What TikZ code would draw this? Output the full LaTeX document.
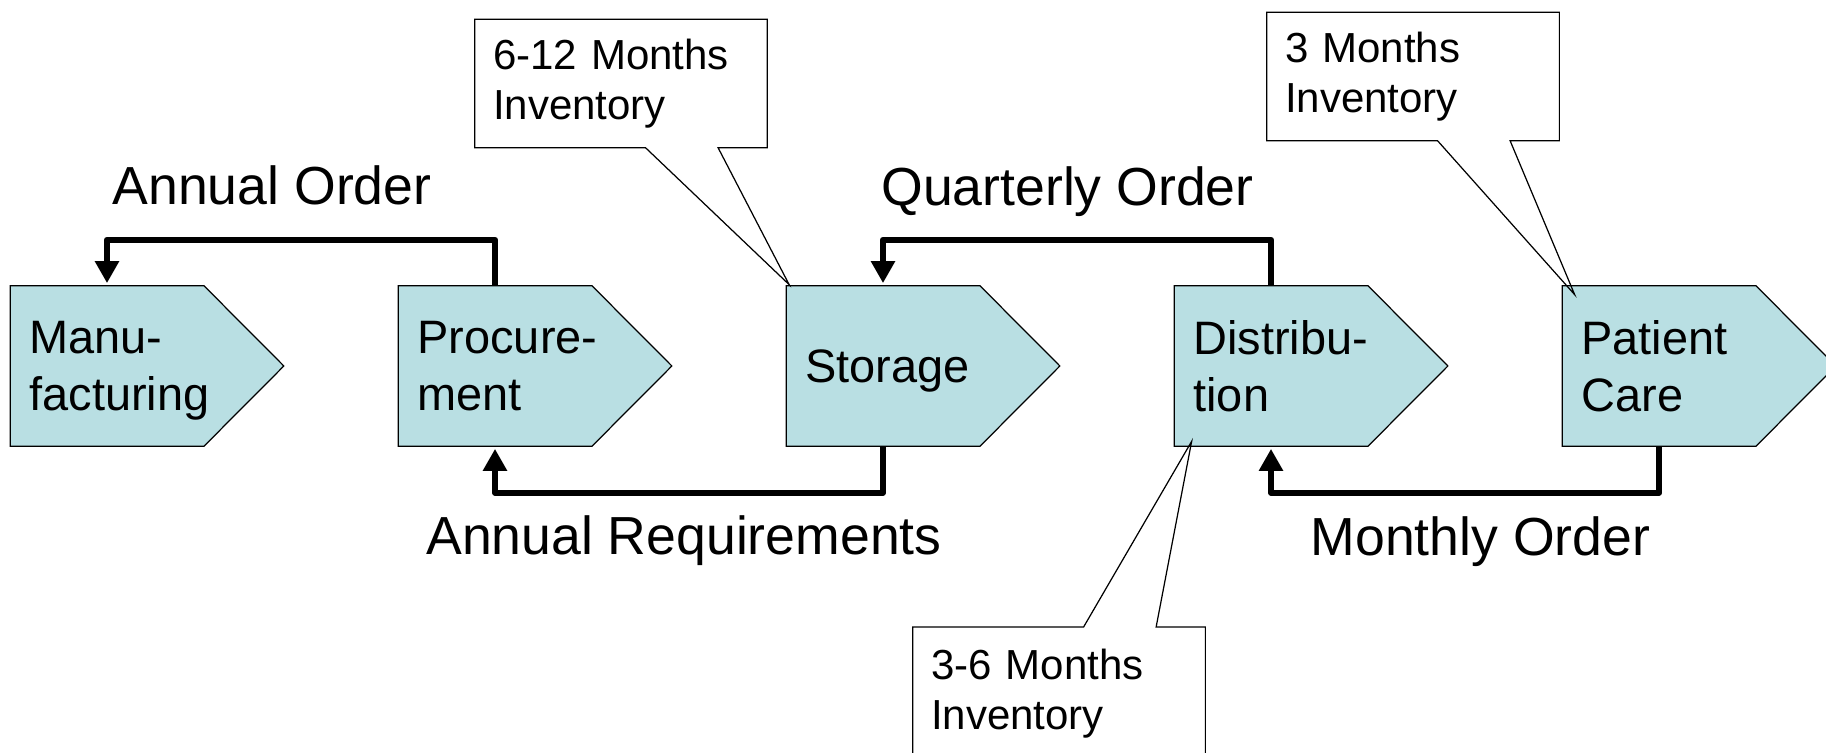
\documentclass[tikz,border=0pt]{standalone}
\usepackage{fontspec}
\setmainfont{Liberation Sans}
\usepackage{tikz}
\usetikzlibrary{arrows.meta,positioning,calc,backgrounds}
\usepackage{xcolor}
\definecolor{stagepale}{RGB}{185,223,227}
\hyphenpenalty=10000
\exhyphenpenalty=10000
\newcommand{\stagefont}{\fontsize{26.7pt}{32.4pt}\selectfont}
\newcommand{\flowfont}{\fontsize{30.5pt}{36pt}\selectfont}
\newcommand{\calloutfont}{\fontsize{23.9pt}{28.5pt}\selectfont}

\tikzset{
    stagebox/.style={rectangle,minimum width=3.86cm,minimum height=3.2cm,inner xsep=0.38cm,inner ysep=0pt,text width=3.1cm,text depth=32.4pt,align=left,font=\stagefont},
    stageshape/.style={draw=black,fill=stagepale,line width=0.7pt},
    flowarrow/.style={line width=3.4pt,line join=round,shorten >=0.05cm,-{Triangle[length=0.44cm,width=0.46cm]}},
    flowlabel/.style={font=\flowfont,anchor=base,inner sep=0pt},
    callbox/.style={rectangle,minimum width=5.84cm,minimum height=2.56cm,inner xsep=0.36cm,text width=5.12cm,align=left,font=\calloutfont},
    callline/.style={draw=black,line width=0.7pt}
}

\begin{document}
\begin{tikzpicture}
        \useasboundingbox (0,0) rectangle (36.52,15.04);

        % Stages
        \node[stagebox] (manu) at (2.14,7.72) {Manu-\\facturing};
        \node[stagebox] (proc) at (9.90,7.72) {Procure-\\ment};
        \node[stagebox,text depth=0pt] (stor) at (17.66,7.72) {Storage};
        \node[stagebox] (dist) at (25.42,7.72) {Distribu-\\tion};
        \node[stagebox] (care) at (33.18,7.72) {Patient\\Care};

        \begin{scope}[on background layer]
            \foreach \s in {manu,proc,stor,dist,care}
                \draw[stageshape] (\s.north west) -- (\s.north east) -- ([xshift=1.6cm]\s.east) -- (\s.south east) -- (\s.south west) -- cycle;
        \end{scope}

        % Orders and requirements
        \draw[flowarrow] (proc.north) -- ++(0,0.92) -| (manu.north);
        \draw[flowarrow] (dist.north) -- ++(0,0.92) -| (stor.north);
        \draw[flowarrow] (stor.south) -- ++(0,-0.93) -| (proc.south);
        \draw[flowarrow] (care.south) -- ++(0,-0.93) -| (dist.south);

        \node[flowlabel] (lbl-annual) at (5.44,10.94) {Annual Order};
        \node[flowlabel] (lbl-quarter) at (21.35,10.92) {Quarterly Order};
        \node[flowlabel] (lbl-req) at (13.68,3.94) {Annual Requirements};
        \node[flowlabel] (lbl-month) at (29.61,3.92) {Monthly Order};

        % Inventory callouts
        \node[callbox] (inv-stor) at (12.42,13.37) {6-12 Months\\Inventory};
        \draw[callline] (inv-stor.south west) -- ([xshift=3.42cm]inv-stor.south west) -- ([shift={(0.06,0.02)}]stor.north west) -- ([xshift=4.87cm]inv-stor.south west) -- (inv-stor.south east) -- (inv-stor.north east) -- (inv-stor.north west) -- cycle;

        \node[callbox] (inv-care) at (28.26,13.51) {3 Months\\Inventory};
        \draw[callline] (inv-care.south west) -- ([xshift=3.42cm]inv-care.south west) -- ([shift={(0.25,-0.18)}]care.north west) -- ([xshift=4.87cm]inv-care.south west) -- (inv-care.south east) -- (inv-care.north east) -- (inv-care.north west) -- cycle;

        \node[callbox,minimum height=2.67cm] (inv-dist) at (21.18,1.16) {3-6 Months\\Inventory};
        \draw[callline] (inv-dist.north west) -- ([xshift=3.42cm]inv-dist.north west) -- ([shift={(0.35,0.1)}]dist.south west) -- ([xshift=4.87cm]inv-dist.north west) -- (inv-dist.north east) -- (inv-dist.south east) -- (inv-dist.south west) -- cycle;
\end{tikzpicture}
\end{document}
